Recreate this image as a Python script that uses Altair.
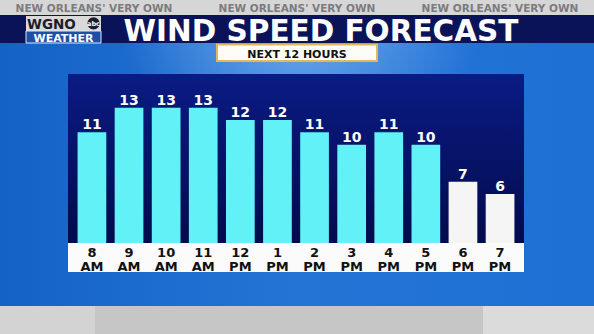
import altair as alt
import pandas as pd

# ---- data ----
hours = ["8", "9", "10", "11", "12", "1", "2", "3", "4", "5", "6", "7"]
periods = ["AM", "AM", "AM", "AM", "PM", "PM", "PM", "PM", "PM", "PM", "PM", "PM"]
speeds = [11, 13, 13, 13, 12, 12, 11, 10, 11, 10, 7, 6]
phase = ["day"] * 10 + ["evening"] * 2
slot = [f"{h} {p}" for h, p in zip(hours, periods)]

title = "WIND SPEED FORECAST"
subtitle = "NEXT 12 HOURS"
tagline = "NEW ORLEANS' VERY OWN"

df = pd.DataFrame({"slot": slot, "hour": hours, "period": periods,
                   "speed": speeds, "phase": phase})

W, H = 594, 334
one = alt.Data(values=[{"k": 0}])

xsc = alt.Scale(domain=slot, range=[68, 524], paddingInner=0.226, paddingOuter=0.258)
ysc = alt.Scale(domain=[0, 13], range=[268, 107.7], zero=True, nice=False)
X = alt.X("slot:N", scale=xsc, axis=None, sort=slot)


def box(x, x2, y, y2, **mk):
    return alt.Chart(one).mark_rect(**mk).encode(
        x=alt.value(x), x2=alt.value(x2), y=alt.value(y), y2=alt.value(y2))


def label(txt, x, y, **mk):
    return alt.Chart(one).mark_text(text=txt, **mk).encode(x=alt.value(x), y=alt.value(y))


sky = box(0, W, 0, H, color={
    "gradient": "linear", "x1": 0, "y1": 0, "x2": 1, "y2": 0,
    "stops": [{"offset": 0, "color": "#1462c6"},
              {"offset": 0.5, "color": "#2474d6"},
              {"offset": 1, "color": "#1f70d4"}]})
glow = box(120, 480, 30, 130, color={
    "gradient": "radial", "x1": 0.5, "y1": 0.3, "r1": 0, "x2": 0.5, "y2": 0.3, "r2": 0.5,
    "stops": [{"offset": 0, "color": "rgba(140,190,245,0.75)"},
              {"offset": 1, "color": "rgba(140,190,245,0)"}]})

top_strip = box(0, W, 0, 15, color="#d6d6d6")
tags = [label(tagline, cx, 12, font="DejaVu Sans", fontWeight="bold", fontSize=10.5,
              color="#7c7c7c", align="center", baseline="alphabetic") for cx in (94, 297, 500)]

banner = box(0, W, 15, 43, color="#0a1358")
title_t = label(title, 321, 41, font="DejaVu Sans", fontWeight="bold", fontSize=29.5,
                color="#ffffff", align="center", baseline="alphabetic")

# logo
logo_plate = box(26, 101, 16, 31, color="#d9d9d9")
logo_w = label("WGNO", 27, 28.5, font="DejaVu Sans", fontWeight="bold", fontSize=13.5,
               color="#1c1c2a", align="left", baseline="alphabetic")
logo_c = alt.Chart(one).mark_point(filled=True, shape="circle", size=150, color="#1c1c2a",
                                   opacity=1).encode(x=alt.value(93.5), y=alt.value(23.3))
logo_abc = label("abc", 93.5, 25.5, font="DejaVu Sans", fontWeight="bold", fontSize=6.5,
                 color="#ffffff", align="center", baseline="alphabetic")
logo_box = box(26, 101, 31, 43, color="#1f4ea6", stroke="#dfe6f5", strokeWidth=1)
logo_wx = label("WEATHER", 63.5, 41.5, font="DejaVu Sans", fontWeight="bold", fontSize=11,
                color="#ffffff", align="center", baseline="alphabetic")

sub_box = box(217, 377, 44.5, 61, color="#fdfcf6", stroke="#e2b95a", strokeWidth=2)
sub_t = label(subtitle, 297, 57.5, font="DejaVu Sans", fontWeight="bold", fontSize=11,
              color="#111111", align="center", baseline="alphabetic")

panel = box(68, 524, 74, 243, color={
    "gradient": "linear", "x1": 0, "y1": 0, "x2": 0, "y2": 1,
    "stops": [{"offset": 0, "color": "#0a1b84"},
              {"offset": 1, "color": "#030b4c"}]})

bars = alt.Chart(df).mark_bar().encode(
    x=X,
    y=alt.Y("speed:Q", scale=ysc, axis=None),
    color=alt.Color("phase:N", scale=alt.Scale(domain=["day", "evening"],
                                               range=["#62f1f6", "#f5f5f5"]), legend=None),
)

strip = box(68, 524, 243, 272, color="#fbfbfb")

hour_t = alt.Chart(df).mark_text(font="DejaVu Sans", fontWeight="bold", fontSize=13,
                                 color="#111111", baseline="alphabetic", align="center").encode(
    x=X, y=alt.value(256.5), text="hour:N")
per_t = alt.Chart(df).mark_text(font="DejaVu Sans", fontWeight="bold", fontSize=13,
                                color="#111111", baseline="alphabetic", align="center").encode(
    x=X, y=alt.value(270.5), text="period:N")

val_t = alt.Chart(df).mark_text(font="DejaVu Sans", fontWeight="bold", fontSize=14,
                                color="#ffffff", baseline="alphabetic", align="center",
                                dy=-3).encode(
    x=X, y=alt.Y("speed:Q", scale=ysc, axis=None), text="speed:Q")

ground = box(0, W, 306, H, color="#c6c6c6")
ground_l = box(0, 95, 306, H, color="#d3d3d3")
ground_r = box(483, W, 306, H, color="#dbdbdb")

chart = alt.layer(
    sky, glow, top_strip, *tags, banner, title_t,
    logo_plate, logo_w, logo_c, logo_abc, logo_box, logo_wx,
    sub_box, sub_t, panel, bars, strip, hour_t, per_t, val_t,
    ground, ground_l, ground_r,
).properties(
    width=W, height=H, padding=0,
    autosize=alt.AutoSizeParams(type="none"),
    background="#1e6ed2",
).configure_view(stroke=None)

chart.save("out.html", embed_options={"renderer": "svg", "actions": False})
